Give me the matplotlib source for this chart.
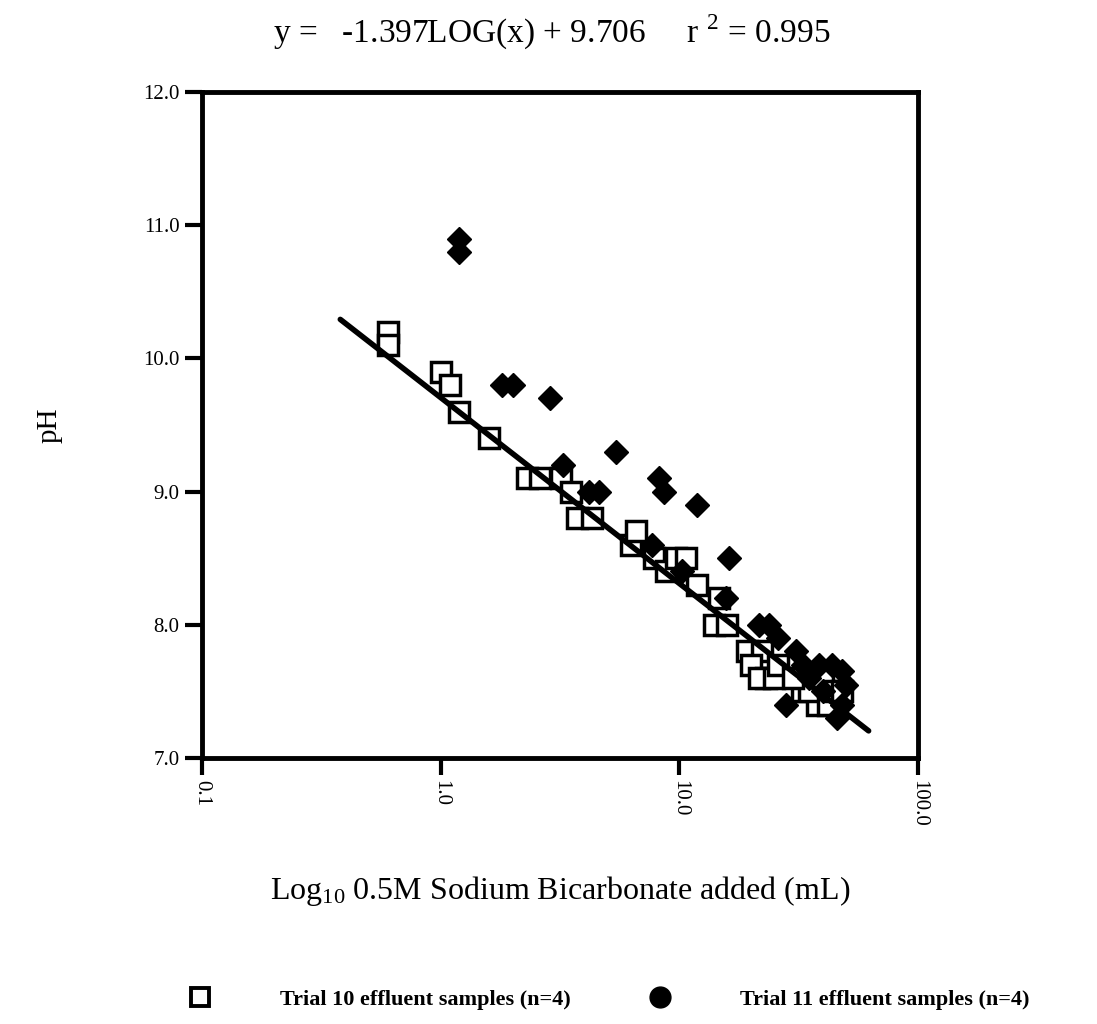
import numpy as np
import matplotlib
matplotlib.use("Agg")
import matplotlib.pyplot as plt
from matplotlib.lines import Line2D

plt.rcParams["font.family"] = ["Liberation Serif", "DejaVu Serif"]

# Trial 10 effluent (open squares): mL bicarbonate added, pH
t10_ml = [0.60, 0.60, 1.0, 1.09, 1.19, 1.59, 2.29, 2.6, 3.2, 3.53, 3.74, 4.32,
          6.3, 6.6, 7.8, 8.8, 9.7, 10.7, 11.8, 14.7, 14.0, 15.8, 19.2, 22.2,
          20.0, 23.0, 21.5, 25.0, 26.0, 32.6, 37.8, 35.0, 40.0, 42.0, 45.0,
          48.0, 30.0]
t10_ph = [10.2, 10.1, 9.9, 9.8, 9.6, 9.4, 9.1, 9.1, 9.1, 9.0, 8.8, 8.8,
          8.6, 8.7, 8.5, 8.4, 8.5, 8.5, 8.3, 8.2, 8.0, 8.0, 7.8, 7.8,
          7.7, 7.6, 7.6, 7.6, 7.7, 7.5, 7.4, 7.5, 7.6, 7.4, 7.5,
          7.5, 7.6]

# Trial 11 effluent (filled diamonds)
t11_ml = [1.19, 1.19, 1.8, 2.0, 2.86, 3.24, 4.2, 4.6, 5.45, 7.7, 8.25, 8.66,
          10.3, 11.9, 15.7, 16.2, 21.6, 23.7, 26.0, 30.8, 28.0, 35.0, 38.5,
          43.6, 48.0, 50.0, 45.6, 48.0, 33.0, 40.0]
t11_ph = [10.9, 10.8, 9.8, 9.8, 9.7, 9.2, 9.0, 9.0, 9.3, 8.6, 9.1, 9.0,
          8.4, 8.9, 8.2, 8.5, 8.0, 8.0, 7.9, 7.8, 7.4, 7.6, 7.7,
          7.7, 7.65, 7.55, 7.3, 7.4, 7.7, 7.5]

# regression from the header: pH = slope*log10(mL) + intercept
slope, intercept, r2 = -1.397, 9.706, 0.995
fit_range = [0.38, 62.0]

fig = plt.figure(figsize=(10.97, 10.24), dpi=100)
ax = fig.add_axes([0.184, 0.260, 0.653, 0.650])

ax.plot(t10_ml, t10_ph, ls="none", marker="s", ms=14, mfc="white",
        mec="black", mew=2.5, zorder=3)
ax.plot(t11_ml, t11_ph, ls="none", marker="D", ms=12, mfc="black",
        mec="black", zorder=4)

xf = np.logspace(np.log10(fit_range[0]), np.log10(fit_range[1]), 50)
ax.plot(xf, slope * np.log10(xf) + intercept, color="black", lw=4,
        solid_capstyle="round", zorder=5)

ax.set_xscale("log")
ax.set_xlim(0.1, 100)
ax.set_ylim(7.0, 12.0)
ax.set_xticks([0.1, 1, 10, 100])
ax.set_xticklabels(["0.1", "1.0", "10.0", "100.0"], rotation=-90, fontsize=15)
ax.xaxis.set_minor_locator(matplotlib.ticker.NullLocator())
ax.set_yticks([7, 8, 9, 10, 11, 12])
ax.set_yticklabels(["7.0", "8.0", "9.0", "10.0", "11.0", "12.0"], fontsize=15)
ax.tick_params(direction="out", length=12, width=3, pad=4)
for s in ax.spines.values():
    s.set_linewidth(3.5)

ax.set_xlabel(r"Log$\mathregular{_{10}}$ 0.5M Sodium Bicarbonate added (mL)",
              fontsize=23, labelpad=34)
ax.set_ylabel("pH", fontsize=21, labelpad=58)

fig.text(0.503, 0.968,
         f"y =   {slope}LOG(x) + {intercept}     r $^{{\\mathregular{{2}}}}$ = {r2}",
         ha="center", va="center", fontsize=24)

handles = [
    Line2D([], [], ls="none", marker="s", ms=13, mfc="white", mec="black", mew=2.8),
    Line2D([], [], ls="none", marker="o", ms=15, mfc="black", mec="black"),
]
labels = ["Trial 10 effluent samples (n=4)", "Trial 11 effluent samples (n=4)"]
fig.legend(handles, labels, loc="center", bbox_to_anchor=(0.55, 0.024),
           ncol=2, frameon=False, handletextpad=2.6, columnspacing=3.0,
           prop={"size": 16, "weight": "bold"})

fig.savefig("out.png", dpi=100)
